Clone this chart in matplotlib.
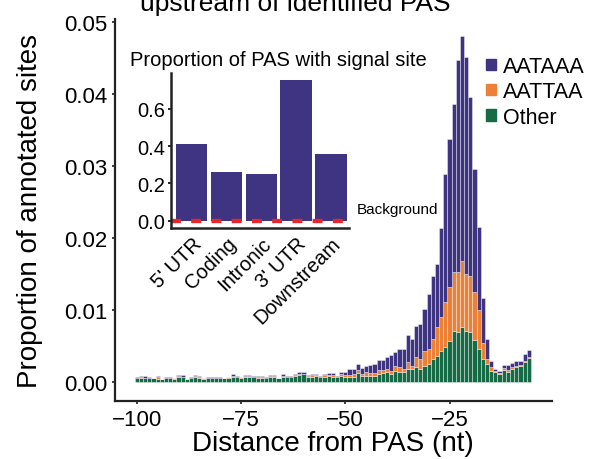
# -------------------------------------------------------------
# Import libraries
# -------------------------------------------------------------
import numpy as np
import matplotlib
matplotlib.use("Agg")
import matplotlib.pyplot as plt
from matplotlib.patches import Patch

plt.rcParams['font.family'] = ['Liberation Sans', 'DejaVu Sans']

# -------------------------------------------------------------
# Data (main histogram values in units of 1e-4)
# -------------------------------------------------------------
positions = np.arange(-100, -5)  # -100 ... -6

other = np.array([
    4.5, 5.0, 5.0, 4.5, 4.5, 4.0, 3.0, 5.0, 5.0, 4.0,
    6.5, 6.5, 3.0, 5.0, 6.0, 5.5, 4.0, 4.5, 4.5, 5.0,
    5.0, 4.5, 5.0, 7.0, 6.0, 5.5, 6.0, 6.0, 6.0, 5.5,
    5.5, 5.0, 6.5, 7.0, 4.5, 7.0, 6.0, 6.0, 8.0, 9.0,
    10, 7, 7, 7.5, 6, 7, 7.5, 7, 6, 8,
    7, 7, 7, 11.6, 8.3, 8.3, 7.9, 8.3, 10.2, 11.6,
    13, 10.7, 15.3, 13.9, 13.0,
    17.6, 17.6, 19.9, 17.6, 22.3, 24.6, 31.5, 36.2, 43.1, 47.8,
    57.0, 70.9, 68.6, 76.5, 71, 69, 58, 46, 31, 25,
    15, 13, 10.7, 16.2, 13.9, 17.6, 20, 21.3, 27.8, 32.5,
]) / 1e4

aattaa = np.array([
    1.0, 0.8, 0.6, 0.8, 0.3, 2.0, 0.3, 0.5, 0.5, 0.5,
    0.8, 0.5, 0.2, 0.5, 1.2, 0.5, 0.6, 1.0, 0.5, 0.5,
    0.5, 0.3, 1.0, 1.2, 0.5, 0.5, 1.3, 1.3, 0.5, 0.5,
    0.5, 0.5, 1.0, 1.0, 0.3, 1.2, 1.0, 0.8, 1.1, 1.4,
    1, 1, 1.5, 1, 1, 1.5, 1.5, 2, 1, 2,
    2, 2.3, 3, 4.6, 1.9, 4.7, 3.7, 3.3, 5.6, 4.6,
    4.6, 4.6, 7.0, 6.0, 4.6,
    9.3, 4.7, 13.9, 13.9, 20.8, 20.8, 27.8, 39.4, 46.4, 62.5,
    74.2, 81.2, 83.5, 91.5, 79, 78, 67, 54, 22, 7,
    5, 1.4, 0.9, 2.3, 2.8, 2.4, 2.3, 1.9, 1.4, 1.3,
]) / 1e4

aataaa = np.array([
    1.0, 2.5, 1.8, 1.7, 0.8, 2.0, 0.4, 1.0, 1.0, 0.5,
    1.5, 1.8, 0.5, 1.5, 2.5, 2.0, 1.0, 1.0, 1.0, 1.5,
    1.0, 0.8, 1.0, 2.5, 1.5, 1.0, 2.0, 1.5, 1.5, 1.4,
    1.4, 1.0, 1.8, 1.3, 0.8, 2.0, 1.3, 1.2, 2.0, 3.0,
    2.9, 1.3, 1.7, 1.7, 1.3, 1.7, 2.6, 2.6, 1.3, 3.9,
    4.9, 7.9, 7.6, 8.8, 9.3, 9.3, 11.6, 12.5, 13.9, 13.5,
    16.2, 21.8, 18.5, 25.5, 27.8,
    38.0, 37.0, 43.2, 48.7, 58.0, 76.5, 88.1, 88.1, 124.2, 177.6,
    206.3, 234.1, 294.4, 313, 301, 249, 171, 115, 63, 27,
    9, 2.6, 3.7, 4.7, 6.5, 5.5, 6.9, 6.0, 9.3, 10.2,
]) / 1e4

# Inset: proportion of PAS with signal site
regions = ["5' UTR", "Coding", "Intronic", "3' UTR", "Downstream"]
signal_prop = [0.411, 0.261, 0.252, 0.754, 0.358]
background = 0.0

# colours
c_blue = "#3f3482"
c_orange = "#ec8037"
c_green = "#146b45"

# -------------------------------------------------------------
# Figure
# -------------------------------------------------------------
fig = plt.figure(figsize=(5.91, 4.60), dpi=100)
ax = fig.add_axes([0.194, 0.126, 0.7395, 0.8305])

edge = (1, 1, 1, 0.55)
ax.bar(positions, other, width=1.0, color=c_green, edgecolor=edge, linewidth=0.5)
ax.bar(positions, aattaa, width=1.0, bottom=other, color=c_orange,
       edgecolor=edge, linewidth=0.5)
ax.bar(positions, aataaa, width=1.0, bottom=other + aattaa, color=c_blue,
       edgecolor=edge, linewidth=0.5)

ax.set_xlim(-105.3, -0.5)
ax.set_ylim(-0.0027, 0.0504)
ax.set_xticks([-100, -75, -50, -25])
ax.set_yticks([0.0, 0.01, 0.02, 0.03, 0.04, 0.05])
ax.set_yticklabels(["0.00", "0.01", "0.02", "0.03", "0.04", "0.05"])
ax.tick_params(labelsize=16, length=2.5, width=1.2, pad=3, color="#222222")
for side in ["top", "right"]:
    ax.spines[side].set_visible(False)
for side in ["left", "bottom"]:
    ax.spines[side].set_linewidth(1.6)
    ax.spines[side].set_color("#222222")

ax.set_xlabel("Distance from PAS (nt)", fontsize=20, labelpad=0)
ax.set_ylabel("Proportion of annotated sites", fontsize=20, labelpad=15)

# title (second line, partly cut by the top edge)
fig.text(0.5, 1 - 11 / 460, "upstream of identified PAS", ha="center",
         va="baseline", fontsize=19)

# legend
handles = [Patch(color=c_blue), Patch(color=c_orange), Patch(color=c_green)]
fig.legend(handles, ["AATAAA", "AATTAA", "Other"], loc="upper left",
           bbox_to_anchor=(486 / 591, 1 - 57 / 460), frameon=False,
           fontsize=15.5, handlelength=0.45, handleheight=0.45,
           handletextpad=0.35, labelspacing=0.2, borderpad=0, borderaxespad=0)

# -------------------------------------------------------------
# Inset
# -------------------------------------------------------------
ins = fig.add_axes([171 / 591, 1 - 229.3 / 460, 178.3 / 591, 155.3 / 460])
xs = np.arange(len(regions))
ins.bar(xs, signal_prop, width=0.9, color=c_blue)
ins.axhline(background, color="#e8262a", linewidth=3.1, dashes=(2.3, 2.4))
ins.set_xlim(-0.6, 4.53)
ins.set_ylim(-0.041, 0.792)
ins.set_yticks([0.0, 0.2, 0.4, 0.6])
ins.set_xticks(xs)
ins.set_xticklabels(regions, rotation=45, ha="right", rotation_mode="anchor")
ins.tick_params(axis="y", labelsize=14.5, length=2, width=1.2, pad=2)
ins.tick_params(axis="x", labelsize=14.5, length=0, pad=4)
for side in ["top", "right"]:
    ins.spines[side].set_visible(False)
for side in ["left", "bottom"]:
    ins.spines[side].set_linewidth(1.8)
    ins.spines[side].set_color("#222222")

fig.text(278 / 591, 1 - 61 / 460, "Proportion of PAS with signal site",
         ha="center", va="center", fontsize=14.5)
fig.text(357 / 591, 1 - 210 / 460, "Background", ha="left", va="center",
         fontsize=11)

fig.savefig("out.png", dpi=100)
